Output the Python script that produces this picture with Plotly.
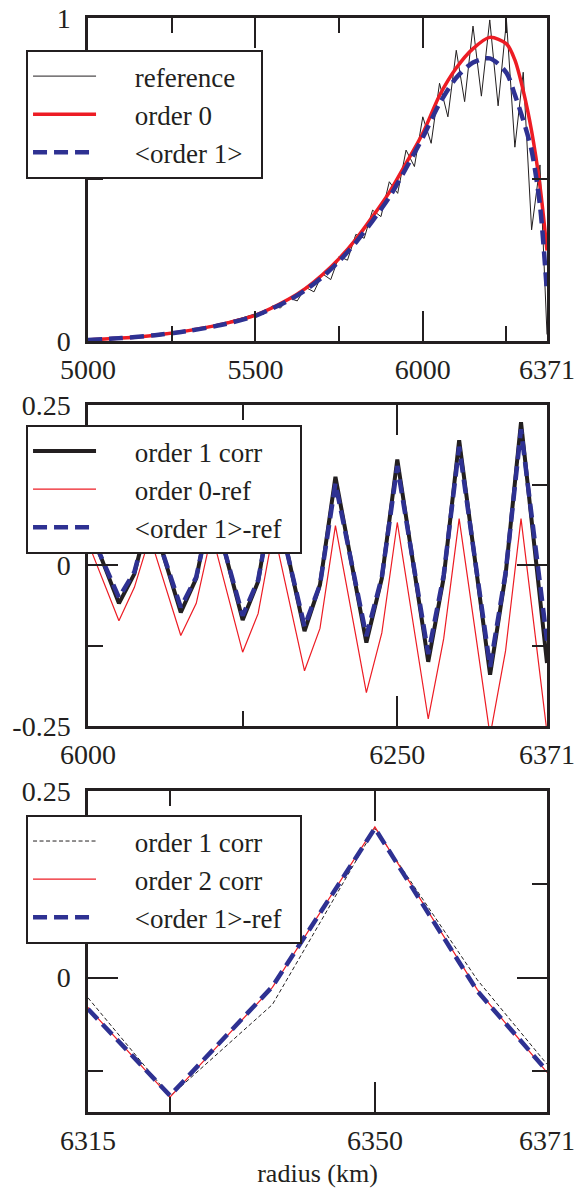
import plotly.graph_objects as go

# ---------------- data ----------------
# Panel 1 (radius 5000-6371 km)
top_smooth_r = [5000, 5100, 5200, 5300, 5400, 5500, 5600, 5650, 5700, 5750, 5800, 5850,
                5900, 5950, 6000, 6050, 6100, 6150, 6200, 6250, 6275, 6300, 6325, 6350, 6371]
order0 = [0.003, 0.009, 0.018, 0.032, 0.052, 0.080, 0.130, 0.163, 0.205, 0.255, 0.315, 0.385,
          0.460, 0.550, 0.643, 0.760, 0.845, 0.905, 0.940, 0.920, 0.870, 0.775, 0.650, 0.480, 0.280]
order1_avg = [0.003, 0.009, 0.018, 0.031, 0.050, 0.078, 0.126, 0.158, 0.198, 0.247, 0.305, 0.372,
              0.445, 0.535, 0.630, 0.735, 0.815, 0.862, 0.875, 0.830, 0.762, 0.684, 0.590, 0.420, 0.148]

ref_r = [5000, 5050, 5100, 5150, 5200, 5250, 5300, 5350, 5400, 5450, 5500, 5525, 5550, 5575,
         5600, 5625, 5650, 5675, 5700, 5725, 5750, 5775, 5800, 5825, 5850, 5875, 5900, 5925,
         5950, 5975, 6000, 6025, 6050, 6075, 6100, 6125, 6150, 6175, 6200, 6225, 6250, 6275,
         6300, 6325, 6350, 6371]
reference = [0.003, 0.006, 0.010, 0.013, 0.019, 0.026, 0.033, 0.043, 0.054, 0.068, 0.084, 0.083,
             0.108, 0.102, 0.133, 0.124, 0.166, 0.152, 0.208, 0.190, 0.262, 0.250, 0.330, 0.318,
             0.405, 0.385, 0.493, 0.457, 0.591, 0.540, 0.694, 0.612, 0.798, 0.694, 0.900, 0.741,
             0.975, 0.758, 0.994, 0.728, 0.992, 0.600, 0.832, 0.344, 0.545, 0.020]

# Panel 2 (radius 6000-6371 km)
mid_r = [6000, 6025, 6037.5, 6050, 6075, 6087.5, 6100, 6125, 6137.5, 6150, 6175, 6187.5,
         6200, 6225, 6237.5, 6250, 6275, 6287.5, 6300, 6325, 6337.5, 6350, 6371]
order1_corr_mid = [0.065, -0.059, -0.013, 0.085, -0.073, -0.020, 0.100, -0.085, -0.025, 0.118,
                   -0.102, -0.030, 0.138, -0.120, -0.020, 0.165, -0.150, -0.019, 0.195, -0.170,
                   -0.015, 0.223, -0.152]
order0_minus_ref = [0.036, -0.086, -0.034, 0.045, -0.109, -0.059, 0.050, -0.135, -0.075, 0.056,
                    -0.164, -0.098, 0.062, -0.198, -0.105, 0.067, -0.239, -0.114, 0.073, -0.265,
                    -0.133, 0.073, -0.260]
order1_avg_minus_ref_mid = [0.060, -0.050, -0.010, 0.080, -0.065, -0.018, 0.095, -0.078, -0.023,
                            0.110, -0.095, -0.030, 0.128, -0.110, -0.018, 0.155, -0.138, -0.015,
                            0.185, -0.158, -0.012, 0.212, -0.117]

# Panel 3 (radius 6315-6371 km)
bot_r = [6315, 6325, 6337.5, 6350, 6362.5, 6371]
order1_corr_bot = [-0.027, -0.159, -0.036, 0.200, -0.003, -0.116]
order2_corr_bot = [-0.040, -0.160, -0.013, 0.202, -0.016, -0.127]
order1_avg_minus_ref_bot = [-0.042, -0.158, -0.012, 0.200, -0.018, -0.125]

# tick labels
top_x_ticks = [5000, 5500, 6000, 6371]
top_x_minor = [5250, 5750, 6250]
top_y_ticks = [0, 1]
top_y_minor = [0.5]
mid_x_ticks = [6000, 6250, 6371]
mid_x_minor = [6125]
mid_y_ticks = [-0.25, 0, 0.25]
mid_y_text = ["-0.25", "0", "0.25"]
mid_y_minor = [-0.125, 0.125]
bot_x_ticks = [6315, 6350, 6371]
bot_x_minor = [6325]
bot_y_ticks = [0, 0.25]
bot_y_text = ["0", "0.25"]
bot_y_minor = [-0.125, 0.125]

# ---------------- style ----------------
INK = "#231f20"
RED = "#ed1c24"
BLUE = "#2e3192"
FONT = "Liberation Serif"
BLUE_DASH = "14px,7px"
PAD = "\u00a0" * 5
TAIL = "\u00a0" * 2


def lab(s):
    return PAD + s + TAIL


fig = go.Figure()

# panel 1
fig.add_trace(go.Scatter(x=ref_r, y=reference, mode="lines", name=lab("reference"),
                         line=dict(color=INK, width=1), xaxis="x", yaxis="y", legend="legend"))
fig.add_trace(go.Scatter(x=top_smooth_r, y=order0, mode="lines", name=lab("order 0"),
                         line=dict(color=RED, width=3.5, shape="spline", smoothing=0.8),
                         xaxis="x", yaxis="y", legend="legend"))
fig.add_trace(go.Scatter(x=top_smooth_r, y=order1_avg, mode="lines", name=lab("<order 1>"),
                         line=dict(color=BLUE, width=4.5, dash=BLUE_DASH, shape="spline", smoothing=0.8),
                         xaxis="x", yaxis="y", legend="legend"))

# panel 2
fig.add_trace(go.Scatter(x=mid_r, y=order1_corr_mid, mode="lines", name=lab("order 1 corr"),
                         line=dict(color=INK, width=4), xaxis="x2", yaxis="y2", legend="legend2"))
fig.add_trace(go.Scatter(x=mid_r, y=order0_minus_ref, mode="lines", name=lab("order 0-ref"),
                         line=dict(color=RED, width=1.2), xaxis="x2", yaxis="y2", legend="legend2"))
fig.add_trace(go.Scatter(x=mid_r, y=order1_avg_minus_ref_mid, mode="lines", name=lab("<order 1>-ref"),
                         line=dict(color=BLUE, width=4.5, dash=BLUE_DASH),
                         xaxis="x2", yaxis="y2", legend="legend2"))

# panel 3
fig.add_trace(go.Scatter(x=bot_r, y=order1_corr_bot, mode="lines", name=lab("order 1 corr"),
                         line=dict(color=INK, width=1, dash="4px,2.5px"),
                         xaxis="x3", yaxis="y3", legend="legend3"))
fig.add_trace(go.Scatter(x=bot_r, y=order2_corr_bot, mode="lines", name=lab("order 2 corr"),
                         line=dict(color=RED, width=1.2), xaxis="x3", yaxis="y3", legend="legend3"))
fig.add_trace(go.Scatter(x=bot_r, y=order1_avg_minus_ref_bot, mode="lines", name=lab("<order 1>-ref"),
                         line=dict(color=BLUE, width=4.5, dash=BLUE_DASH),
                         xaxis="x3", yaxis="y3", legend="legend3"))


def axis(rng, tickvals, minor_vals, is_x, domain=None, anchor=None, ticktext=None, title=None):
    d = dict(range=rng, showline=True, linecolor=INK, linewidth=2.5, mirror="ticks",
             ticks="inside", ticklen=30, tickwidth=2, tickcolor=INK, showgrid=False,
             zeroline=False, tickmode="array", tickvals=tickvals, automargin=False,
             ticklabelstandoff=(2 if is_x else 9),
             tickfont=dict(family=FONT, size=28, color=INK),
             minor=dict(ticks="inside", ticklen=15, tickwidth=2, tickcolor=INK,
                        tickmode="array", tickvals=minor_vals, showgrid=False))
    if ticktext is not None:
        d["ticktext"] = ticktext
    if domain is not None:
        d["domain"] = domain
    if anchor is not None:
        d["anchor"] = anchor
    if title is not None:
        d["title"] = dict(text=title, font=dict(family=FONT, size=26, color=INK), standoff=10)
    return d


leg_common = dict(xanchor="left", yanchor="top", bgcolor="white", bordercolor=INK,
                  borderwidth=2, font=dict(family=FONT, size=27, color=INK),
                  itemwidth=63, tracegroupgap=0)

fig.update_layout(
    width=587, height=1188,
    margin=dict(l=88, r=40, t=18, b=76, autoexpand=False),
    paper_bgcolor="white", plot_bgcolor="white",
    font=dict(family=FONT, color=INK),
    showlegend=True,
    xaxis=axis([5000, 6371], top_x_ticks, top_x_minor, True, anchor="y"),
    yaxis=axis([0, 1], top_y_ticks, top_y_minor, False, domain=[0.7048, 1.0], anchor="x"),
    xaxis2=axis([6000, 6371], mid_x_ticks, mid_x_minor, True, anchor="y2"),
    yaxis2=axis([-0.25, 0.25], mid_y_ticks, mid_y_minor, False, domain=[0.3528, 0.6463],
                anchor="x2", ticktext=mid_y_text),
    xaxis3=axis([6315, 6371], bot_x_ticks, bot_x_minor, True, anchor="y3", title="radius (km)"),
    yaxis3=axis([-0.18, 0.25], bot_y_ticks, bot_y_minor, False, domain=[0.0, 0.2934],
                anchor="x3", ticktext=bot_y_text),
    legend=dict(x=-0.135, y=0.9707, **leg_common),
    legend2=dict(x=-0.135, y=0.628, **leg_common),
    legend3=dict(x=-0.135, y=0.2715, **leg_common),
)

fig.write_html("out.html")
